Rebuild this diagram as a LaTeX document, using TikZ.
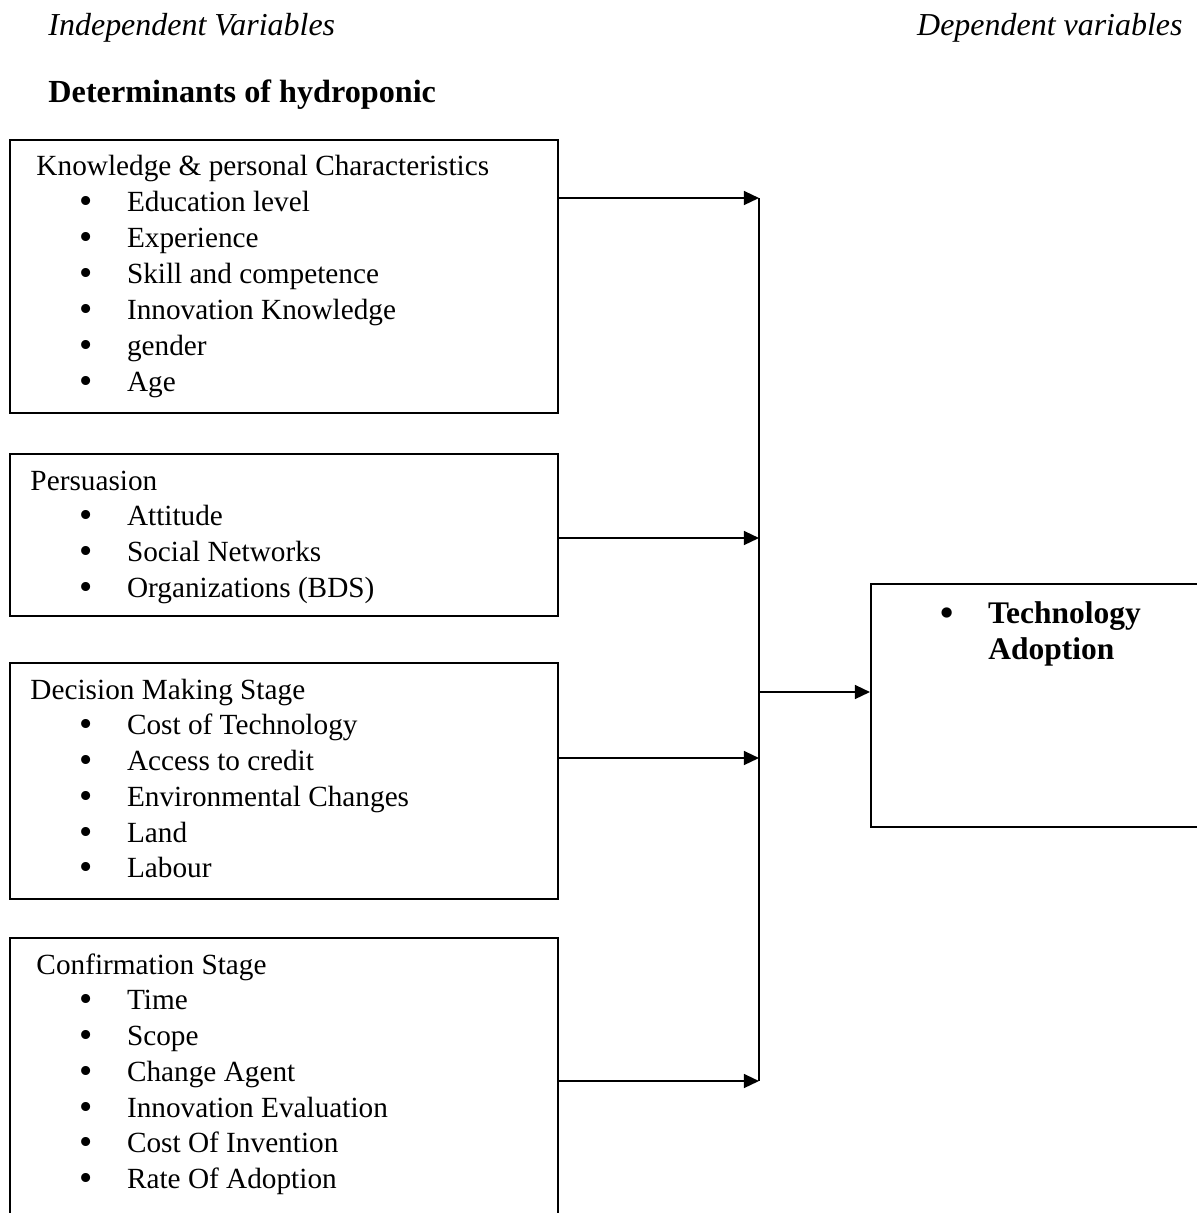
\documentclass[tikz,border=0pt]{standalone}
\usepackage{fontspec}
\setmainfont{Liberation Serif}
\usetikzlibrary{arrows.meta}
\newcommand{\blt}{\makebox[19.5pt][l]{\raisebox{-0.9pt}{\fontsize{15.5}{15.5}\selectfont•}}}

\begin{document}
\begin{tikzpicture}[
    x=0.41pt, y=-0.41pt,
    every node/.style={font=\fontsize{12}{14}\selectfont},
    box/.style={rectangle, draw, line width=0.8pt, minimum width=224.7pt, inner sep=0pt, anchor=north west},
    head/.style={anchor=base west, inner sep=0pt},
    item/.style={anchor=base west, inner sep=0pt},
    varname/.style={inner sep=0pt, font=\fontsize{13.1}{15}\selectfont\itshape},
    title/.style={anchor=base west, inner sep=0pt, font=\fontsize{13.2}{15}\selectfont\bfseries},
    result/.style={anchor=base west, inner sep=0pt, font=\fontsize{12.9}{15}\selectfont\bfseries},
    arrow/.style={-{Triangle[length=6.2pt,width=5.7pt]}, line width=0.8pt},
    bus/.style={line width=0.55pt}
]
\useasboundingbox (0,0) rectangle (1197,1213);
\clip (0,0) rectangle (1197,1213);

% -------------------------
% Headings
% -------------------------
    \node[varname, anchor=base west] (indep) at (48,35) {Independent Variables};
    \node[varname, anchor=base east] (dep) at (1183,35) {Dependent variables};
    \node[title] (det) at (48,102) {Determinants of hydroponic};

% -------------------------
% Left Column Boxes
% -------------------------
    \node[box, minimum height=111.9pt] (know) at (9,139) {};
    \node[head] (know_h) at (36,175) {Knowledge \& personal Characteristics};
    \node[item] (know_1) at (79,211) {\blt Education level};
    \node[item] (know_2) at (79,247) {\blt Experience};
    \node[item] (know_3) at (79,283) {\blt Skill and competence};
    \node[item] (know_4) at (79,319) {\blt Innovation Knowledge};
    \node[item] (know_5) at (79,355) {\blt gender};
    \node[item] (know_6) at (79,391) {\blt Age};

    \node[box, minimum height=66.4pt] (pers) at (9,453) {};
    \node[head] (pers_h) at (30,490) {Persuasion};
    \node[item] (pers_1) at (79,525) {\blt Attitude};
    \node[item] (pers_2) at (79,561) {\blt Social Networks};
    \node[item] (pers_3) at (79,597) {\blt Organizations (BDS)};

    \node[box, minimum height=96.8pt] (deci) at (9,662) {};
    \node[head] (deci_h) at (30,699) {Decision Making Stage};
    \node[item] (deci_1) at (79,734) {\blt Cost of Technology};
    \node[item] (deci_2) at (79,770) {\blt Access to credit};
    \node[item] (deci_3) at (79,806) {\blt Environmental Changes};
    \node[item] (deci_4) at (79,842) {\blt Land};
    \node[item] (deci_5) at (79,877) {\blt Labour};

    \node[box, minimum height=124.2pt] (conf) at (9,937) {};
    \node[head] (conf_h) at (36,974) {Confirmation Stage};
    \node[item] (conf_1) at (79,1009) {\blt Time};
    \node[item] (conf_2) at (79,1045) {\blt Scope};
    \node[item] (conf_3) at (79,1081) {\blt Change Agent};
    \node[item] (conf_4) at (79,1117) {\blt Innovation Evaluation};
    \node[item] (conf_5) at (79,1152) {\blt Cost Of Invention};
    \node[item] (conf_6) at (79,1188) {\blt Rate Of Adoption};

% -------------------------
% Right Box
% -------------------------
    \node[box, minimum width=147.6pt, minimum height=99.6pt] (tech) at (870,583) {};
    \node[result] (tech_1) at (940,623) {\blt Technology};
    \node[result] (tech_2) at (988,659) {Adoption};

% -------------------------
% Arrows & Routing
% -------------------------
    \coordinate (b1) at (759,198);
    \coordinate (b2) at (759,538);
    \coordinate (b3) at (759,758);
    \coordinate (b4) at (759,1081);
    \coordinate (b5) at (759,692);

    \draw[bus] (b1) -- (b4);
    \draw[arrow] (know.east |- b1) -- (b1);
    \draw[arrow] (pers.east |- b2) -- (b2);
    \draw[arrow] (deci.east |- b3) -- (b3);
    \draw[arrow] (conf.east |- b4) -- (b4);
    \draw[arrow] (b5) -- (tech.west |- b5);
\end{tikzpicture}
\end{document}
